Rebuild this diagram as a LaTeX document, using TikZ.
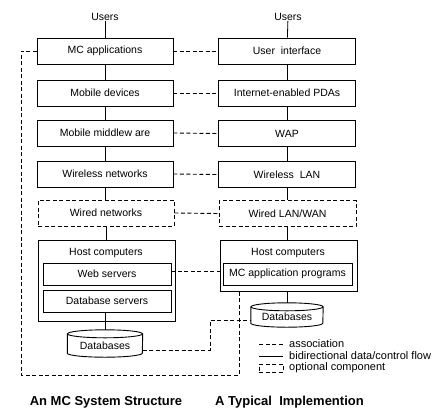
\documentclass[tikz,border=0pt]{standalone}
\usepackage{fontspec}
\setmainfont{Liberation Sans}
\begin{document}
\begin{tikzpicture}[x=1pt,y=-1pt,
  txt/.style={inner sep=0pt, font=\fontsize{10.5}{12}\selectfont},
  box/.style={draw, line width=0.9pt, inner sep=0pt, minimum width=136pt, minimum height=26pt, font=\fontsize{10.5}{12}\selectfont},
  inbox/.style={draw, line width=0.9pt, inner sep=0pt, minimum height=22pt, font=\fontsize{10.5}{12}\selectfont},
  optbox/.style={box, dash pattern=on 4pt off 2.5pt},
  flow/.style={line width=0.8pt},
  assoc/.style={line width=0.9pt, dash pattern=on 4pt off 2.5pt},
  legtxt/.style={anchor=west, inner sep=0pt, font=\fontsize{11}{12}\selectfont},
  ttl/.style={inner sep=0pt, anchor=base, font=\fontsize{13}{15}\selectfont\bfseries}
]
\useasboundingbox (0,0) rectangle (436,408);

% left column
\node[txt] (u1) at (105,17) {Users};
\node[box] (mcapp) at (105,51) {MC applications};
\node[box] (mobdev) at (105,93) {Mobile devices};
\node[box] (midw) at (105,133) {Mobile middlew are};
\node[box] (wless) at (105,174) {Wireless networks};
\node[optbox] (wired) at (106,213) {Wired networks};
\node[box, minimum width=137pt, minimum height=81pt] (host1) at (106.5,280.5) {};
\node[txt] (h1lab) at (106,253) {Host computers};
\node[inbox, minimum width=128pt] (web) at (107,274) {Web servers};
\node[inbox, minimum width=128pt] (dbs) at (107,301) {Database servers};
\node[txt, minimum width=75pt, minimum height=27pt] (db1) at (105,343.5) {};
\node[txt] (db1lab) at (105,346) {Databases};

% right column
\node[txt] (u2) at (288,17) {Users};
\node[box, minimum width=137pt] (ui) at (287,51) {User\ \ interface};
\node[box, minimum width=137pt] (pda) at (287,93) {Internet-enabled PDAs};
\node[box, minimum width=137pt] (wap) at (287,133.5) {WAP};
\node[box, minimum width=137pt] (wlan) at (287,174.5) {Wireless\ \ LAN};
\node[optbox, minimum width=137pt] (wlw) at (287.5,213.5) {Wired LAN/WAN};
\node[box, minimum width=137pt, minimum height=51pt] (host2) at (288.5,265.5) {};
\node[txt] (h2lab) at (288,253) {Host computers};
\node[inbox, minimum width=129pt] (mcprog) at (287.5,274) {MC application programs};
\node[txt, minimum width=72pt, minimum height=24pt] (db2) at (287,315) {};
\node[txt] (db2lab) at (287,317) {Databases};

% cylinders
\draw[line width=0.9pt] ([yshift=-4pt]db1.north west) -- ([yshift=4pt]db1.south west)
     arc[start angle=180, end angle=0, x radius=37.5, y radius=4] -- ([yshift=-4pt]db1.north east);
\draw[line width=0.9pt] ([yshift=-4pt]db1.north) ellipse[x radius=37.5, y radius=4];
\draw[line width=0.9pt] ([yshift=-4pt]db2.north west) -- ([yshift=4pt]db2.south west)
     arc[start angle=180, end angle=0, x radius=36, y radius=4] -- ([yshift=-4pt]db2.north east);
\draw[line width=0.9pt] ([yshift=-4pt]db2.north) ellipse[x radius=36, y radius=4];

% solid flows
\draw[flow] (u1) -- (mcapp);
\draw[flow] (mcapp) -- (mobdev);
\draw[flow] (mobdev) -- (midw);
\draw[flow] (midw) -- (wless);
\draw[flow] (wless.south) -- (wless.south |- wired.north);
\draw[flow] (wired.south) -- (wired.south |- host1.north);
\draw[flow] (db1.north |- dbs.south) -- (db1.north);
\draw[flow] (u2) -- (ui);
\draw[flow] (ui) -- (pda);
\draw[flow] (pda) -- (wap);
\draw[flow] (wap) -- (wlan);
\draw[flow] (wlan.south) -- (wlan.south |- wlw.north);
\draw[flow] (wlw.south) -- (wlw.south |- host2.north);
\draw[flow] (db2.north |- host2.south) -- (db2.north);

% associations
\draw[assoc] (mcapp.east) -- (ui.west);
\draw[assoc] (mobdev.east) -- (pda.west);
\draw[assoc] (midw.east) -- (wap.west);
\draw[assoc] (wless.east) -- (wlan.west);
\draw[assoc] (wired.east) -- (wlw.west);
\draw[assoc] ([yshift=3pt]web.east) -- ([yshift=3pt]web.east -| host2.west);
\coordinate (j1) at (210,350);
\draw[assoc] (db1.east |- j1) -- (j1) |- ([yshift=-5.5pt]db2.west);
\coordinate (o1) at (21,375);
\coordinate (o2) at (239,375);
\draw[assoc] (mcapp.west) -| (o1) -- (o2) -- (o2 |- host2.south);

% legend
\node[legtxt] (lg1) at (289,344) {association};
\node[legtxt] (lg2) at (289,356) {bidirectional data/control flow};
\node[legtxt] (lg3) at (289,368) {optional component};
\draw[assoc] ([xshift=-30pt]lg1.west) -- ([xshift=-6pt]lg1.west);
\draw[flow] ([xshift=-30pt]lg2.west) -- ([xshift=-6pt]lg2.west);
\node[draw, assoc, minimum width=24pt, minimum height=8pt, inner sep=0pt] (lgbox) at ([xshift=-18pt]lg3.west) {};

% titles
\node[ttl] (t1) at (106,405.5) {An MC System Structure};
\node[ttl, anchor=base west] (t2) at (215,405.5) {A Typical\ \ Implemention};
\end{tikzpicture}
\end{document}
